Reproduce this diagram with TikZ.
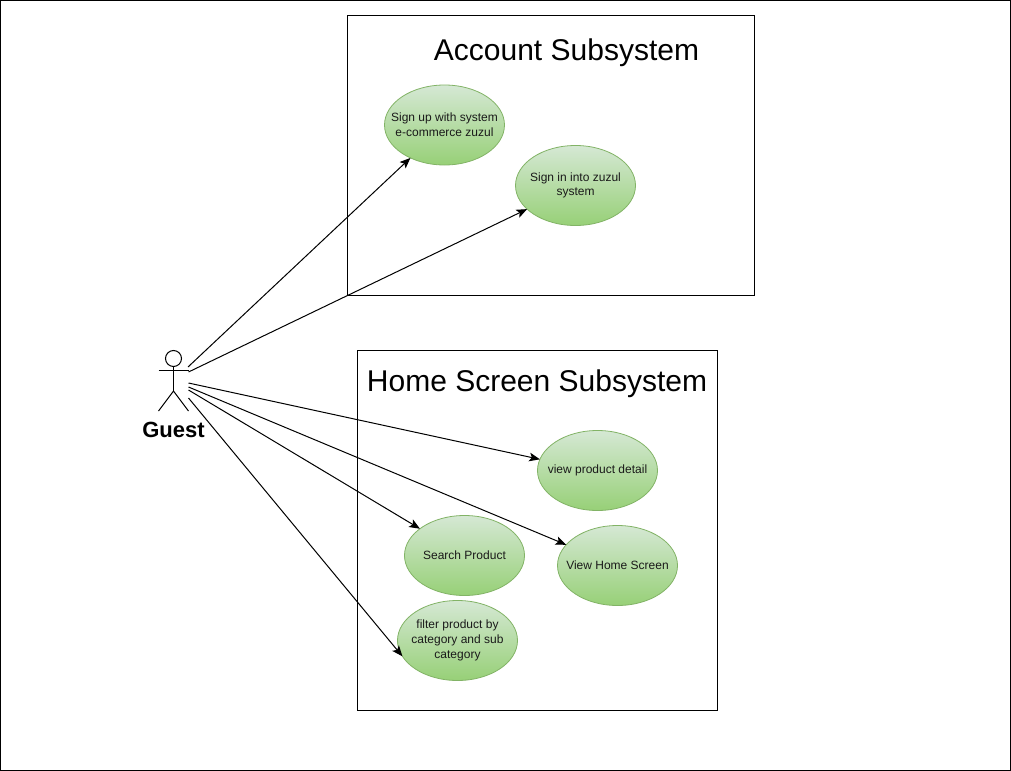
\documentclass[tikz,border=0pt]{standalone}
\usepackage{fontspec}
\setmainfont{Liberation Sans}
\usetikzlibrary{arrows.meta,shapes.geometric}
\definecolor{ufill}{HTML}{D5E8D4}
\definecolor{lfill}{HTML}{97D077}
\definecolor{edge}{HTML}{82B366}
\definecolor{ink}{HTML}{1A1A1A}
\tikzset{
  usecase/.style={ellipse,draw=edge,line width=0.6pt,top color=ufill,bottom color=lfill,minimum width=90pt,minimum height=60pt,inner sep=-40pt,outer sep=0pt,align=center,font=\fontsize{9}{11}\selectfont,text=ink},
  sysbox/.style={draw=black,line width=0.75pt,fill=none,inner sep=0pt,outer sep=0pt},
  title/.style={font=\fontsize{22.5}{27}\selectfont,inner sep=0pt},
  link/.style={draw=black,line width=0.75pt,-{Stealth[length=8pt,width=6.5pt,inset=1.8pt]}},
  stick/.style={draw=black,line width=0.75pt},
}
\begin{document}
\begin{tikzpicture}[x=0.75pt,y=-0.75pt]
\useasboundingbox (0,0) rectangle (1011,771);
\node[sysbox,minimum width=757.5pt,minimum height=577.5pt,anchor=north west] (frame) at (0.5,0.5) {};
\node[sysbox,minimum width=305.25pt,minimum height=210pt,anchor=north west] (account) at (347.5,15.5) {};
\node[sysbox,minimum width=270pt,minimum height=270pt,anchor=north west] (home) at (357.5,350.5) {};
\node[title] (accountT) at (566.5,52.5) {Account Subsystem};
\node[title] (homeT) at (537,383.5) {Home Screen Subsystem};

\node[usecase] (signup) at (444.5,125) {Sign up with system\\e-commerce zuzul};
\node[usecase] (signin) at (575.5,185.5) {Sign in into zuzul\\system};
\node[usecase] (detail) at (597.5,470.5) {view product detail};
\node[usecase] (search) at (464.5,555.5) {Search Product};
\node[usecase] (viewhome) at (617.5,565.5) {View Home Screen};
\node[usecase] (filter) at (457.5,640.5) {filter product by\\category and sub\\category};

% actor
\node[circle,draw=black,line width=0.75pt,minimum size=12pt,inner sep=0pt,outer sep=0pt] (head) at (173.5,358.5) {};
\coordinate (hip) at (173.5,391);
\coordinate (armL) at (158.5,370.5);
\coordinate (armR) at (188.5,370.5);
\coordinate (footL) at (158.5,411);
\coordinate (footR) at (188.5,411);
\draw[stick] (head.south) -- (hip);
\draw[stick] (armL) -- (armR);
\draw[stick] (footL) -- (hip) -- (footR);
\node[font=\bfseries\fontsize{16.5}{20}\selectfont,inner sep=0pt] (guest) at (173.5,429.5) {Guest};

% connector starts
\coordinate (s1) at (188,367);
\coordinate (s2) at (188.5,372);
\coordinate (s3) at (188.5,383);
\coordinate (s4) at (188.5,387);
\coordinate (s5) at (188.5,390);
\coordinate (s6) at (188.5,398);
\draw[link] (s1) -- (signup.224.6);
\draw[link] (s2) -- (signin.206.3);
\draw[link] (s3) -- (detail.169);
\draw[link] (s4) -- (viewhome.158);
\draw[link] (s5) -- (search.149);
\draw[link] (s6) -- (filter.196.6);
\end{tikzpicture}
\end{document}
